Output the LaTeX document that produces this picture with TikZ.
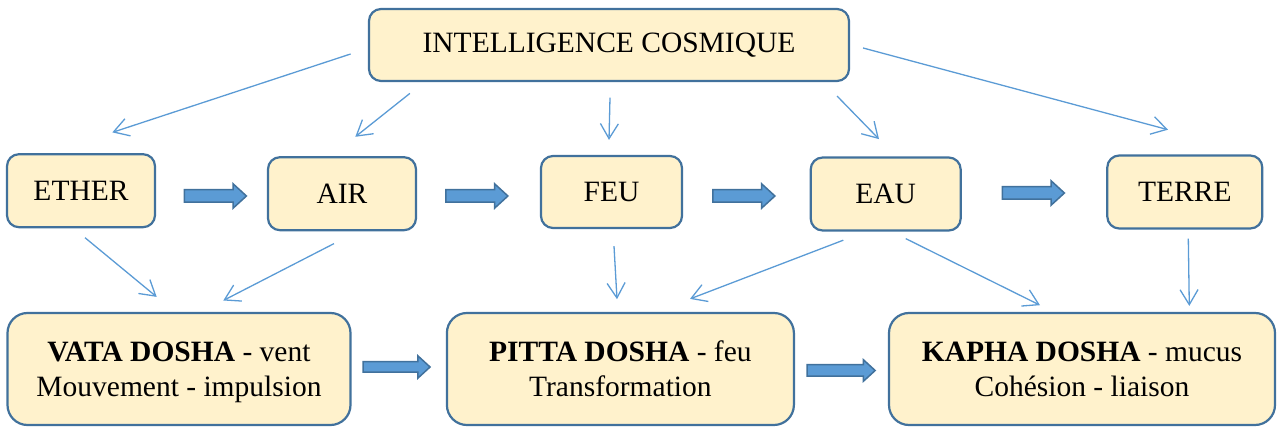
\documentclass[tikz,border=0pt]{standalone}
\usepackage{fontspec}
\setmainfont{Liberation Serif}
\usetikzlibrary{arrows.meta,shapes.arrows}
\definecolor{boxfill}{HTML}{FFF2CC}
\definecolor{boxline}{HTML}{41719C}
\definecolor{linkblue}{HTML}{5B9BD5}
\tikzset{
  element/.style={draw=boxline, fill=boxfill, line width=2.2pt, rounded corners=12pt,
    inner sep=0pt, align=center, font=\fontsize{29.5}{35}\selectfont},
  dosha/.style={element, rounded corners=20pt, minimum height=112pt, text depth=0pt},
  link/.style={draw=linkblue, line width=1.3pt, -{Straight Barb[length=15pt,width=18pt]}},
  flow/.style={single arrow, draw=boxline, fill=linkblue, line width=1.5pt,
    inner xsep=0pt, inner ysep=5.5pt, minimum height=62pt, single arrow head extend=6pt,
    single arrow tip angle=85}
}
\begin{document}
\begin{tikzpicture}[x=1pt, y=-1pt]
\useasboundingbox (0,0) rectangle (1278,427);
\node (cosmic)[element, minimum width=480pt, minimum height=72pt] at (609,45) {INTELLIGENCE COSMIQUE};
\node (ether)[element, minimum width=148pt, minimum height=73pt] at (81,190.7) {ETHER};
\node (air)[element, minimum width=148pt, minimum height=73pt] at (342,193.7) {AIR};
\node (feu)[element, minimum width=141pt, minimum height=72pt] at (611.5,192) {FEU};
\node (eau)[element, minimum width=150pt, minimum height=73pt] at (885.7,194) {EAU};
\node (terre)[element, minimum width=155pt, minimum height=73pt] at (1184.8,192) {TERRE};
\node (vata)[dosha, minimum width=343pt] at (179,369) {\textbf{VATA DOSHA} - vent\\Mouvement - impulsion};
\node (pitta)[dosha, minimum width=347pt] at (620.4,369) {\textbf{PITTA DOSHA} - feu\\Transformation};
\node (kapha)[dosha, minimum width=386pt] at (1082,369) {\textbf{KAPHA DOSHA} - mucus\\Cohésion - liaison};
% block arrows between the elements
\node (f1)[flow] at (212,196) {};
\node (f2)[flow] at (473.5,196) {};
\node (f3)[flow] at (740.5,196) {};
\node (f4)[flow] at (1030,193) {};
\node (f5)[flow, minimum height=67pt, inner ysep=4.5pt, single arrow head extend=6pt] at (393.7,367) {};
\node (f6)[flow, minimum height=68pt, inner ysep=5pt, single arrow head extend=5pt] at (838,370.5) {};
% thin arrows
\draw[link] ([shift={(-17.3,9)}]cosmic.west) -- ([shift={(31.3,-20.7)}]ether.north);
\draw[link] ([shift={(42,11.3)}]cosmic.south west) -- ([shift={(13.3,-19.3)}]air.north);
\draw[link] ([shift={(1,15.5)}]cosmic.south) -- ([shift={(-2.5,-15)}]feu.north);
\draw[link] ([shift={(-13,14)}]cosmic.south east) -- ([shift={(-6.7,-17.3)}]eau.north);
\draw[link] ([shift={(13,3)}]cosmic.east) -- ([shift={(-16.8,-24.7)}]terre.north);
\draw[link] ([shift={(4,9.4)}]ether.south) -- ([shift={(-22.3,-15)}]vata.north);
\draw[link] ([shift={(-8,12.3)}]air.south) -- ([shift={(44.3,-11.4)}]vata.north);
\draw[link] ([shift={(2.5,17)}]feu.south) -- ([shift={(-3.4,-12.7)}]pitta.north);
\draw[link] ([shift={(-42.4,8.6)}]eau.south) -- ([shift={(69.6,-13)}]pitta.north);
\draw[link] ([shift={(20,7)}]eau.south) -- ([shift={(-42,-6.7)}]kapha.north);
\draw[link] ([shift={(3.5,9)}]terre.south) -- ([shift={(107.3,-6)}]kapha.north);
\end{tikzpicture}
\end{document}
